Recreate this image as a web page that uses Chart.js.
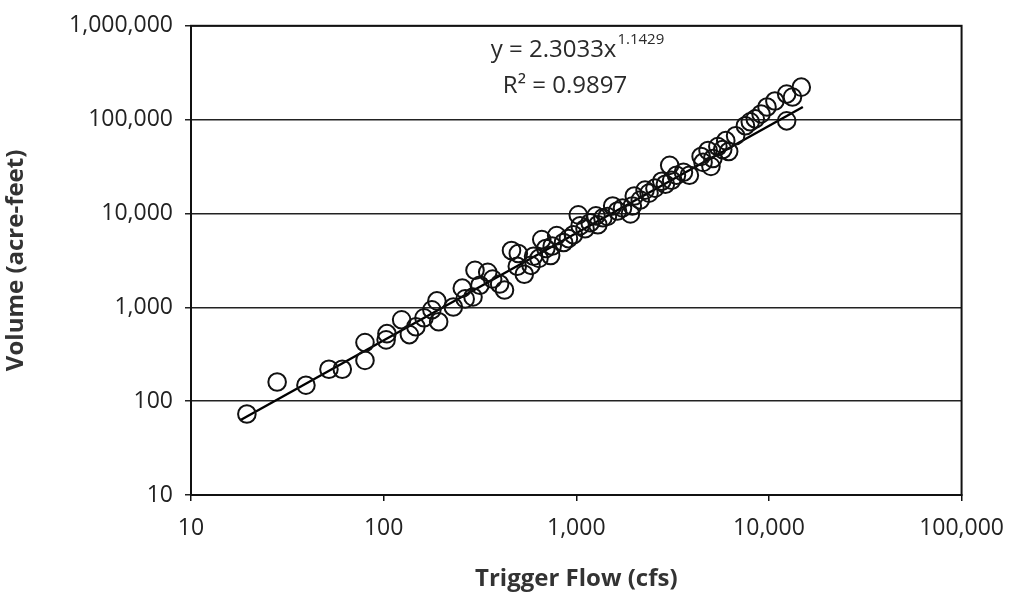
<!DOCTYPE html>
<html>
<head>
<meta charset="utf-8">
<script src="https://cdn.jsdelivr.net/npm/chart.js@4.4.1/dist/chart.umd.min.js"></script>
<style>
  html, body { margin: 0; padding: 0; background: #ffffff; }
  #wrap { width: 1018px; height: 598px; position: relative; }
</style>
</head>
<body>
<div id="wrap"><canvas id="c" width="1018" height="598"></canvas></div>
<script>
// ---- data ----
const flowCfs = [
  19.5, 28, 39.5, 52, 61, 80, 80, 104, 103, 124,
  136, 147, 162, 178, 189, 193, 230, 256, 265, 291,
  298, 316, 347, 368, 400, 424, 461, 494, 500, 537,
  582, 600, 640, 662, 695, 736, 750, 791, 859, 910,
  966, 1024, 1047, 1110, 1180, 1265, 1294, 1374, 1450, 1545,
  1637, 1738, 1910, 1954, 2000, 2147, 2275, 2386, 2560, 2778,
  2900, 3054, 3126, 3311, 3600, 3864, 4446, 4550, 4830, 5000,
  5117, 5430, 5754, 5970, 6180, 6714, 7550, 8000, 8490, 9100,
  9772, 10740, 12360, 12360, 13250, 14720
];
const volumeAcreFeet = [
  73, 160, 148, 219, 219, 272, 421, 524, 450, 736,
  512, 621, 773, 940, 1170, 701, 1009, 1600, 1230, 1290,
  2480, 1720, 2360, 2000, 1770, 1530, 4030, 2740, 3750, 2250,
  2800, 3500, 3320, 5270, 4240, 3570, 4500, 5810, 4900, 5400,
  5940, 9660, 7400, 6880, 7960, 9440, 7590, 8990, 9300, 12000,
  10640, 11460, 9900, 12000, 15350, 13900, 17740, 16480, 18620, 22080,
  20500, 32580, 22590, 25530, 27500, 25530, 40550, 35000, 46880, 31770,
  38550, 51640, 47970, 59700, 45710, 67450, 86100, 94800, 102000, 115000,
  136500, 157800, 187100, 97100, 174000, 221800
];
// power trend line y = 2.3033 x^1.1429 (straight on log-log axes), end points
const trendFlow = [18, 15000];
const trendVolume = [62.6, 136500];

const xTickValues = [10, 100, 1000, 10000, 100000];
const yTickValues = [10, 100, 1000, 10000, 100000, 1000000];

const xTitle = 'Trigger Flow (cfs)';
const yTitle = 'Volume (acre-feet)';
const eqBase = 'y = 2.3033x';
const eqExponent = '1.1429';
const r2Label = 'R² = 0.9897';

// ---- chart ----
const pointData = flowCfs.map((f, i) => ({ x: f, y: volumeAcreFeet[i] }));
const trendData = trendFlow.map((f, i) => ({ x: f, y: trendVolume[i] }));

const fmt = v => Number(v).toLocaleString('en-US');
const tickFont = { family: '"Open Sans", sans-serif', size: 23 };
const titleFont = { family: '"Open Sans", sans-serif', size: 24, weight: 'bold' };

const framePlugin = {
  id: 'frame',
  beforeDatasetsDraw(chart) {
    const { ctx, chartArea: a } = chart;
    ctx.save();
    ctx.strokeStyle = '#111';
    ctx.lineWidth = 2;
    ctx.strokeRect(a.left, a.top, a.right - a.left, a.bottom - a.top);
    ctx.restore();
  }
};

const equationPlugin = {
  id: 'equation',
  afterDraw(chart) {
    const { ctx } = chart;
    ctx.save();
    ctx.fillStyle = '#2a2a2a';
    ctx.textBaseline = 'alphabetic';
    ctx.textAlign = 'left';
    ctx.font = '24px "Open Sans", sans-serif';
    const w1 = ctx.measureText(eqBase).width;
    ctx.font = '15px "Open Sans", sans-serif';
    const w2 = ctx.measureText(eqExponent).width;
    const cx = 577;
    const x0 = cx - (w1 + w2) / 2;
    ctx.font = '24px "Open Sans", sans-serif';
    ctx.fillText(eqBase, x0, 57);
    ctx.font = '15px "Open Sans", sans-serif';
    ctx.fillText(eqExponent, x0 + w1 + 1, 44);
    ctx.font = '24px "Open Sans", sans-serif';
    ctx.textAlign = 'center';
    ctx.fillText(r2Label, 565, 93);
    ctx.restore();
  }
};

new Chart(document.getElementById('c'), {
  type: 'scatter',
  data: {
    datasets: [
      {
        label: 'Events',
        data: pointData,
        pointStyle: 'circle',
        pointRadius: 8.8,
        pointBorderWidth: 2,
        borderColor: '#111',
        backgroundColor: 'rgba(255,255,255,0)',
        order: 1
      },
      {
        label: 'Power trend',
        type: 'line',
        data: trendData,
        showLine: true,
        pointRadius: 0,
        borderColor: '#000',
        borderWidth: 2.4,
        fill: false,
        order: 2
      }
    ]
  },
  options: {
    responsive: false,
    animation: false,
    devicePixelRatio: 1,
    layout: { padding: { left: 0, right: 43, top: 21, bottom: 0 } },
    plugins: { legend: { display: false }, tooltip: { enabled: false } },
    scales: {
      x: {
        type: 'logarithmic',
        min: 10,
        max: 100000,
        afterBuildTicks: s => { s.ticks = xTickValues.map(v => ({ value: v })); },
        afterFit: s => { s.height = 103; },
        ticks: { callback: fmt, font: tickFont, color: '#222', padding: 14, maxRotation: 0, autoSkip: false },
        grid: { drawOnChartArea: false, drawTicks: true, tickLength: 6, color: '#111', lineWidth: 1.5 },
        border: { display: true, color: '#111', width: 2 },
        title: { display: true, text: xTitle, font: titleFont, color: '#333', padding: { top: 4, bottom: 4 } }
      },
      y: {
        type: 'logarithmic',
        min: 10,
        max: 1000000,
        afterBuildTicks: s => { s.ticks = yTickValues.map(v => ({ value: v })); },
        afterFit: s => { s.width = 191; },
        ticks: { callback: fmt, font: tickFont, color: '#222', padding: 12, autoSkip: false },
        grid: { drawOnChartArea: true, drawTicks: true, tickLength: 6, color: '#222', lineWidth: 1.5 },
        border: { display: true, color: '#111', width: 2 },
        title: { display: true, text: yTitle, font: titleFont, color: '#333', padding: { top: 2, bottom: 4 } }
      }
    }
  },
  plugins: [framePlugin, equationPlugin]
});
</script>
</body>
</html>
